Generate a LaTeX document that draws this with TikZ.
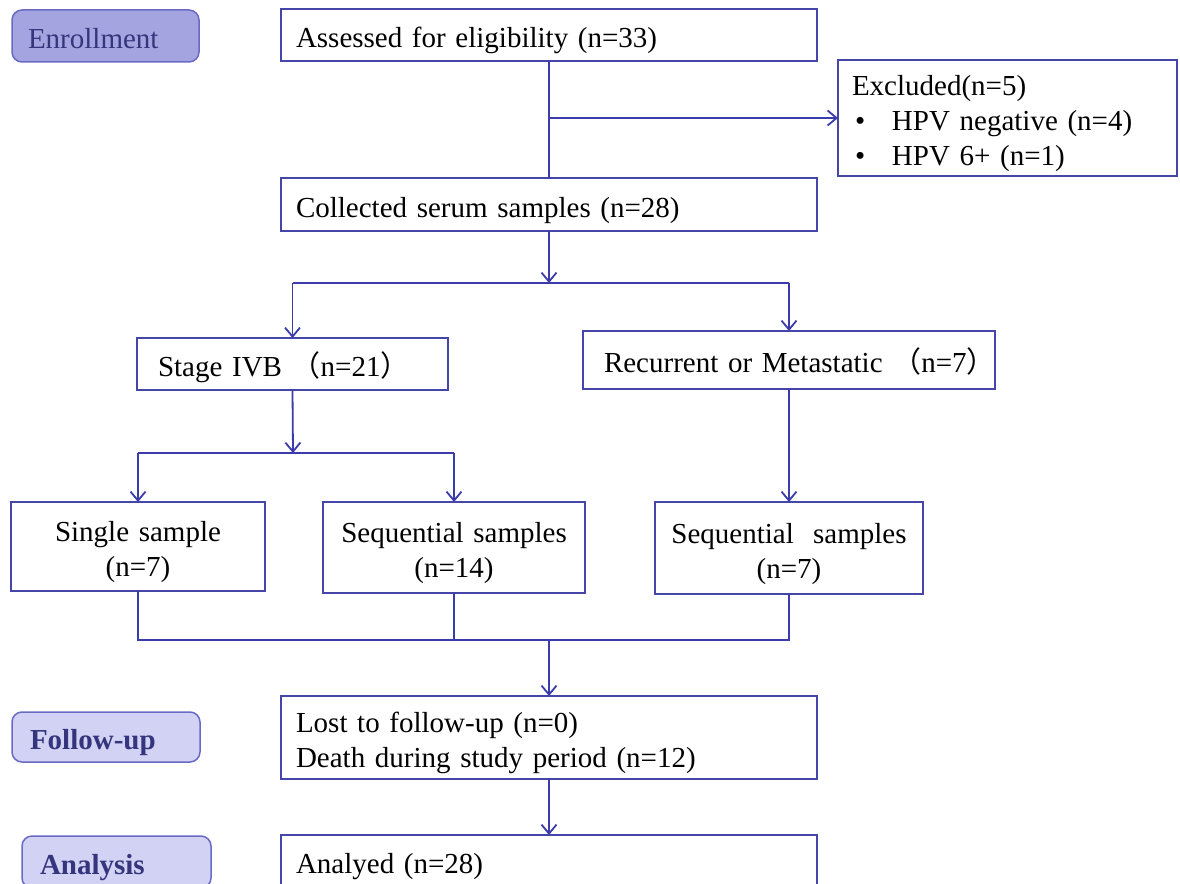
\documentclass[tikz,border=0pt]{standalone}
\usepackage{fontspec}
\setmainfont{Liberation Serif}
\newfontfamily\cjk{Noto Sans CJK SC}
\usetikzlibrary{arrows.meta}
\definecolor{linec}{HTML}{3B3BAB}
\definecolor{boxc}{HTML}{4646A8}
\definecolor{enrfill}{HTML}{A4A4E0}
\definecolor{fufill}{HTML}{D2D2F4}
\definecolor{stagec}{HTML}{6A6AC4}
\definecolor{stagetext}{HTML}{35357E}
\newcommand\ft{\rule{0pt}{32pt}}
\newcommand\fb{\rule[-6.5pt]{0pt}{0pt}}
\begin{document}
\begin{tikzpicture}[x=1pt,y=-1pt,
  every node/.style={font=\fontsize{29}{35}\selectfont},
  box/.style={draw=boxc, line width=1.7pt, fill=white, inner ysep=0pt, outer sep=0pt},
  stagebox/.style={draw=stagec, line width=1.5pt, rounded corners=10pt, inner ysep=0pt, outer sep=0pt, align=left},
  conn/.style={draw=linec, line width=1.8pt},
  arr/.style={conn, -{Straight Barb[length=9pt,width=15pt,line width=1.8pt]}}
]
\useasboundingbox (0,0) rectangle (1180,883);
\begin{scope}
\clip (0,0) rectangle (1180,883);
% stage labels
\node[stagebox, fill=enrfill, text=stagetext, minimum height=52, text width=155, inner xsep=16] (enr) at (105.5,36) {\ft Enrollment\fb};
\node[stagebox, fill=fufill, text=stagetext, minimum height=50, text width=152, inner xsep=18, font=\fontsize{29}{35}\selectfont\bfseries] (fu) at (106,737) {\ft Follow-up\fb};
\node[stagebox, fill=fufill, text=stagetext, minimum height=52, text width=153, inner xsep=18, font=\fontsize{29}{35}\selectfont\bfseries] (an) at (116.5,862) {\ft Analysis\fb};
% flow boxes
\node[box, minimum height=52, text width=506, inner xsep=15, align=left] (assess) at (549,35) {\ft Assessed for eligibility (n=33)\fb};
\node[box, minimum height=116, text width=311, inner xsep=14, align=left] (excl) at (1007.5,118) {\ft Excluded(n=5)\\\makebox[40pt][l]{\hspace{3pt}•}HPV negative (n=4)\\\makebox[40pt][l]{\hspace{3pt}•}HPV 6+ (n=1)\fb};
\node[box, minimum height=53, text width=506, inner xsep=15, align=left] (coll) at (549,204.5) {\ft Collected serum samples (n=28)\fb};
\node[box, minimum height=52, text width=269, inner xsep=21, align=left] (stage) at (292.5,364) {\ft Stage IVB {\cjk （}n=21{\cjk ）}\fb};
\node[box, minimum height=58, text width=370, inner xsep=21, align=left] (recur) at (789,360) {\ft\mbox{Recurrent or Metastatic {\cjk （}n=7{\cjk ）}}\fb};
\node[box, minimum height=89, text width=240, inner xsep=7, align=center] (single) at (138,546.5) {\ft Single sample\\(n=7)\fb};
\node[box, minimum height=91, text width=248, inner xsep=7, align=center] (seqa) at (454,547.5) {\ft Sequential samples\\(n=14)\fb};
\node[box, minimum height=92, text width=254, inner xsep=7, align=center] (seqb) at (789,548) {\ft Sequential\ \ samples\\(n=7)\fb};
\node[box, minimum height=83, text width=506, inner xsep=15, align=left] (lost) at (549,737.5) {\ft Lost to follow-up (n=0)\\Death during study period (n=12)\fb};
\node[box, minimum height=52, text width=506, inner xsep=15, align=left] (anal) at (549,861) {\ft Analyed (n=28)\fb};
% connectors
\coordinate (s1) at (549,283);
\coordinate (s2) at (293,453);
\coordinate (m1) at (549,640);
\draw[conn] (assess.south) -- (coll.north);
\draw[arr] (assess.south |- excl.west) -- (excl.west);
\draw[arr] (coll.south) -- (s1);
\draw[conn] (stage.north |- s1) -- (recur.north |- s1);
\draw[arr] (stage.north |- s1) -- (stage.north);
\draw[arr] (recur.north |- s1) -- (recur.north);
\draw[arr] (stage.south) -- (s2);
\draw[conn] (single.north |- s2) -- (seqa.north |- s2);
\draw[arr] (single.north |- s2) -- (single.north);
\draw[arr] (seqa.north |- s2) -- (seqa.north);
\draw[arr] (recur.south) -- (seqb.north);
\draw[conn] (single.south) -- (single.south |- m1) -- (seqb.south |- m1) -- (seqb.south);
\draw[conn] (seqa.south) -- (seqa.south |- m1);
\draw[arr] (m1) -- (lost.north);
\draw[arr] (lost.south) -- (anal.north);
\end{scope}
\end{tikzpicture}
\end{document}
